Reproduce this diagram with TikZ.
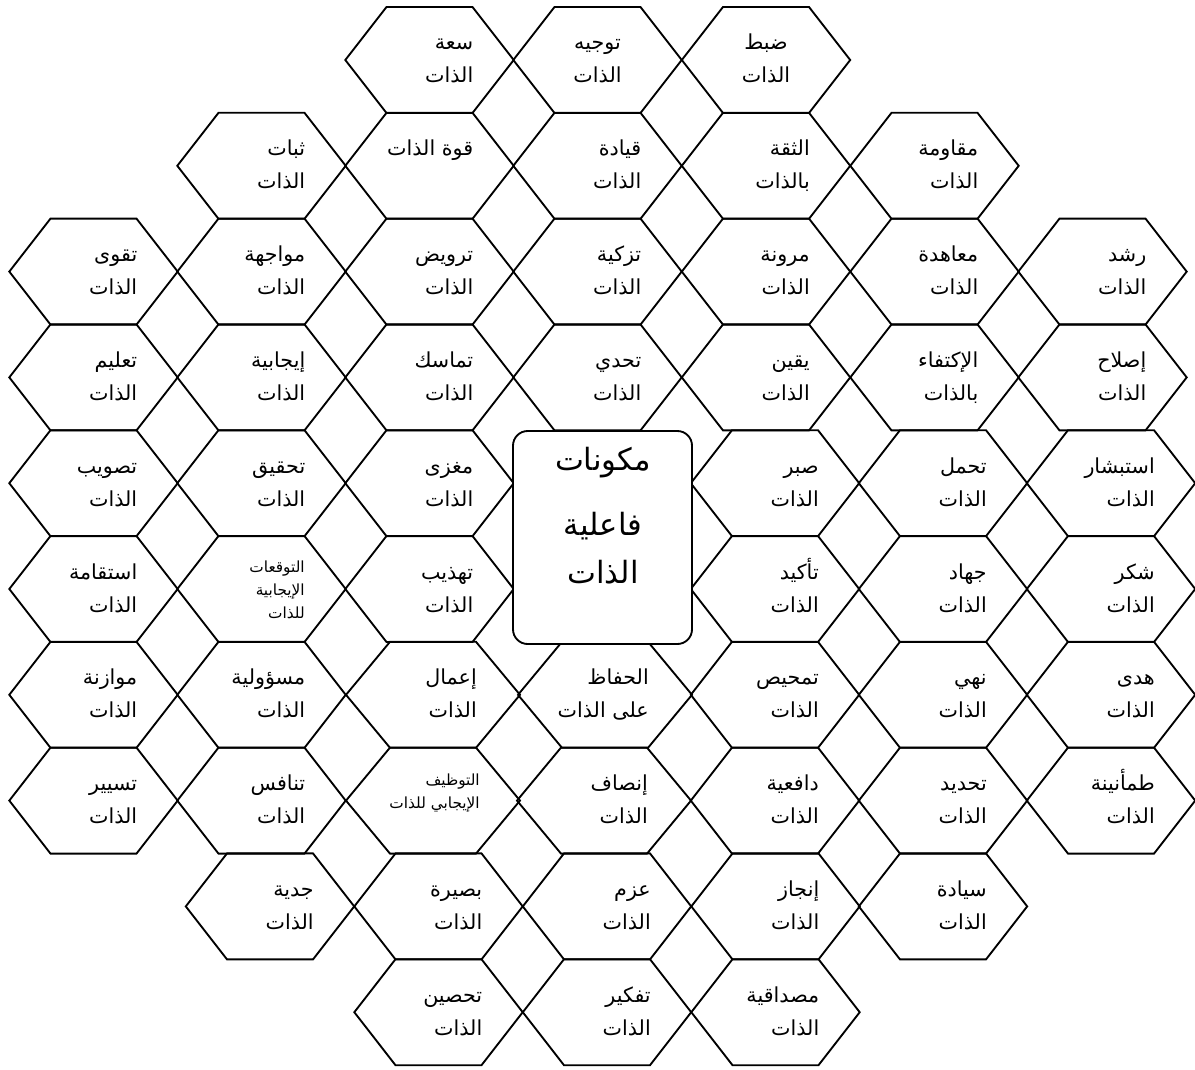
\documentclass[tikz,border=0pt]{standalone}
\usepackage{fontspec}
\newfontfamily\arabicfont[Script=Arabic]{DejaVu Sans}
\TeXXeTstate=1
\newcommand\ar[1]{\beginR #1\endR}
\tikzset{
  hexline/.style={draw=black, line width=1.4pt, line join=miter},
  lbl/.style={inner sep=0pt, font=\arabicfont\fontsize{15.5}{18}\selectfont},
  smalllbl/.style={inner sep=0pt, font=\arabicfont\fontsize{11.5}{13}\selectfont},
  biglbl/.style={inner sep=0pt, font=\arabicfont\fontsize{23}{27}\selectfont},
  centerbox/.style={draw=black, line width=1.4pt, rounded corners=11pt, fill=white,
    minimum width=134.25pt, minimum height=159.75pt, inner sep=0pt},
}
\def\hw{84.2}
% hexagon outline centred at (#1,#2), pixel units
\newcommand\hexpath[2]{%
  \draw[hexline] (#1-\hw,#2) -- (#1-43,#2-53) -- (#1+43,#2-53) -- (#1+\hw,#2)
     -- (#1+43,#2+53) -- (#1-43,#2+53) -- cycle;}
% right-aligned two-line cell
\newcommand\hexR[5]{%
  \hexpath{#2}{#3}
  \node[lbl, anchor=base east] (#1-1) at (#2+44,#3-10) {\ar{#4}};
  \node[lbl, anchor=base east] (#1-2) at (#2+44,#3+23) {\ar{#5}};}
% centred two-line cell
\newcommand\hexC[5]{%
  \hexpath{#2}{#3}
  \node[lbl, anchor=base] (#1-1) at (#2,#3-10) {\ar{#4}};
  \node[lbl, anchor=base] (#1-2) at (#2,#3+23) {\ar{#5}};}
\begin{document}
\begin{tikzpicture}[x=0.75pt, y=-0.75pt]
\useasboundingbox (0,0) rectangle (1195,1070);
% row 0
\hexR{r0c}{429.5}{60}{سعة}{الذات}
\hexC{r0d}{597.5}{60}{توجيه}{الذات}
\hexC{r0e}{766}{60}{ضبط}{الذات}
% row 1
\hexR{r1b}{261.5}{165.8}{ثبات}{الذات}
\hexpath{429.5}{165.8}
\node[lbl, anchor=base east] (r1c-1) at (473.5,155.8) {\beginR قوة الذات\endR};
\hexR{r1d}{597.5}{165.8}{قيادة}{الذات}
\hexR{r1e}{766}{165.8}{الثقة}{بالذات}
\hexR{r1f}{934.5}{165.8}{مقاومة}{الذات}
% row 2
\hexR{r2a}{93.5}{271.6}{تقوى}{الذات}
\hexR{r2b}{261.5}{271.6}{مواجهة}{الذات}
\hexR{r2c}{429.5}{271.6}{ترويض}{الذات}
\hexR{r2d}{597.5}{271.6}{تزكية}{الذات}
\hexR{r2e}{766}{271.6}{مرونة}{الذات}
\hexR{r2f}{934.5}{271.6}{معاهدة}{الذات}
\hexR{r2g}{1102.5}{271.6}{رشد}{الذات}
% row 3
\hexR{r3a}{93.5}{377.4}{تعليم}{الذات}
\hexR{r3b}{261.5}{377.4}{إيجابية}{الذات}
\hexR{r3c}{429.5}{377.4}{تماسك}{الذات}
\hexR{r3d}{597.5}{377.4}{تحدي}{الذات}
\hexR{r3e}{766}{377.4}{يقين}{الذات}
\hexR{r3f}{934.5}{377.4}{الإكتفاء}{بالذات}
\hexR{r3g}{1102.5}{377.4}{إصلاح}{الذات}
% row 4
\hexR{r4a}{93.5}{483.2}{تصويب}{الذات}
\hexR{r4b}{261.5}{483.2}{تحقيق}{الذات}
\hexR{r4c}{429.5}{483.2}{مغزى}{الذات}
\hexR{r4e}{775}{483.2}{صبر}{الذات}
\hexR{r4f}{943}{483.2}{تحمل}{الذات}
\hexR{r4g}{1111}{483.2}{استبشار}{الذات}
% row 5
\hexR{r5a}{93.5}{589}{استقامة}{الذات}
\hexpath{261.5}{589}
\node[smalllbl, anchor=base east] (r5b-1) at (305,572) {\ar{التوقعات}};
\node[smalllbl, anchor=base east] (r5b-2) at (305,595) {\ar{الإيجابية}};
\node[smalllbl, anchor=base east] (r5b-3) at (305,618) {\ar{للذات}};
\hexR{r5c}{429.5}{589}{تهذيب}{الذات}
\hexR{r5e}{775}{589}{تأكيد}{الذات}
\hexR{r5f}{943}{589}{جهاد}{الذات}
\hexR{r5g}{1111}{589}{شكر}{الذات}
% row 6
\hexR{r6a}{93.5}{694.8}{موازنة}{الذات}
\hexR{r6b}{261.5}{694.8}{مسؤولية}{الذات}
\def\hw{87}
\hexR{r6c}{433}{694.8}{إعمال}{الذات}
\hexpath{605}{694.8}
\node[lbl, anchor=base east] (r6d-1) at (649,684.8) {\beginR الحفاظ\endR};
\node[lbl, anchor=base east] (r6d-2) at (649,717.8) {\beginR على الذات\endR};
\def\hw{84.2}
\hexR{r6e}{775}{694.8}{تمحيص}{الذات}
\hexR{r6f}{943}{694.8}{نهي}{الذات}
\hexR{r6g}{1111}{694.8}{هدى}{الذات}
% row 7
\hexR{r7a}{93.5}{800.6}{تسيير}{الذات}
\hexR{r7b}{261.5}{800.6}{تنافس}{الذات}
\def\hw{87}
\hexpath{433}{800.6}
\node[smalllbl, anchor=base east] (r7c-1) at (480,785) {\beginR التوظيف\endR};
\node[smalllbl, anchor=base east] (r7c-2) at (480,808) {\beginR الإيجابي للذات\endR};
\hexR{r7d}{604}{800.6}{إنصاف}{الذات}
\def\hw{84.2}
\hexR{r7e}{775}{800.6}{دافعية}{الذات}
\hexR{r7f}{943}{800.6}{تحديد}{الذات}
\hexR{r7g}{1111}{800.6}{طمأنينة}{الذات}
% row 8
\hexR{r8b}{270}{906.4}{جدية}{الذات}
\hexR{r8c}{438.5}{906.4}{بصيرة}{الذات}
\hexR{r8d}{607}{906.4}{عزم}{الذات}
\hexR{r8e}{775.5}{906.4}{إنجاز}{الذات}
\hexR{r8f}{943}{906.4}{سيادة}{الذات}
% row 9
\hexR{r9c}{438.5}{1012.2}{تحصين}{الذات}
\hexR{r9d}{607}{1012.2}{تفكير}{الذات}
\hexR{r9e}{775.5}{1012.2}{مصداقية}{الذات}
% centre box
\node[centerbox] (core) at (602.5,537.5) {};
\node[biglbl, anchor=base] (core-1) at (603,470) {\ar{مكونات}};
\node[biglbl, anchor=base] (core-2) at (603,535) {\ar{فاعلية}};
\node[biglbl, anchor=base] (core-3) at (603,583) {\ar{الذات}};
\end{tikzpicture}
\end{document}
